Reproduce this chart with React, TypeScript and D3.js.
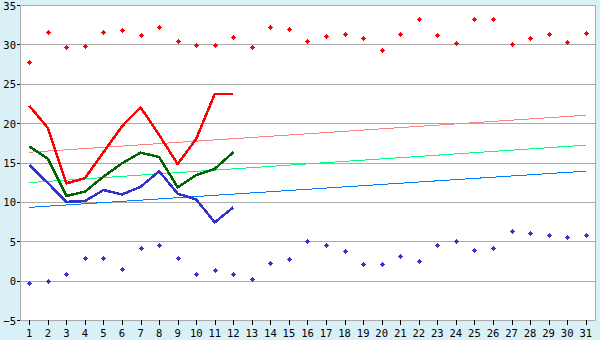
import React from "react";
import * as d3 from "d3";

const days = [1,2,3,4,5,6,7,8,9,10,11,12,13,14,15,16,17,18,19,20,21,22,23,24,25,26,27,28,29,30,31];
const yTicks = [-5,0,5,10,15,20,25,30,35];

const maxRecord = [27.8,31.6,29.7,29.8,31.6,31.8,31.2,32.2,30.4,29.9,29.9,30.9,29.7,32.2,31.9,30.4,31.05,31.3,30.8,29.3,31.3,33.2,31.2,30.2,33.2,33.2,30.0,30.8,31.3,30.3,31.4];
const minRecord = [-0.25,-0.1,0.9,2.9,2.9,1.5,4.1,4.5,2.9,0.9,1.4,0.9,0.15,2.2,2.8,5.0,4.5,3.7,2.05,2.05,3.1,2.55,4.5,5.0,3.95,4.2,6.25,6.0,5.85,5.6,5.85];

const maxLine = [22.2,19.4,12.35,13.0,16.3,19.6,22.0,18.5,14.8,18.0,23.7,23.7];
const meanLine = [17.05,15.5,10.75,11.3,13.2,14.9,16.25,15.7,11.85,13.4,14.2,16.3];
const minLine = [14.7,12.4,10.0,10.1,11.5,10.95,11.9,13.9,11.05,10.3,7.4,9.3];

const trendDays = [1,31];
const trendMax = [16.3,21.0];
const trendMean = [12.45,17.2];
const trendMin = [9.3,13.9];

const W = 600, H = 340;
const L = 20, R = 595, T = 5, B = 320;

export default function App() {
  React.useEffect(() => { document.body.style.margin = "0"; }, []);
  const xb = d3.scaleBand<number>().domain(days).range([L, R]).padding(0);
  const x = (d: number) => (xb(d) as number) + xb.bandwidth() / 2;
  const y = d3.scaleLinear().domain([-5, 35]).range([B, T]);

  const line = d3.line<number>().x((_, i) => x(days[i])).y((v) => y(v));
  const tline = d3.line<number>().x((_, i) => x(trendDays[i])).y((v) => y(v));
  // stepped pixel diamond, 5x5 with a plus-like core
  const marker = (px: number, py: number) => {
    const cx = Math.round(px) + 0.5, cy = Math.round(py) + 0.5;
    const s = 0.5, m = 1.5, b = 2.5;
    return `M${cx - s},${cy - b}H${cx + s}V${cy - m}H${cx + m}V${cy - s}H${cx + b}V${cy + s}H${cx + m}V${cy + m}H${cx + s}V${cy + b}H${cx - s}V${cy + m}H${cx - m}V${cy + s}H${cx - b}V${cy - s}H${cx - m}V${cy - m}H${cx - s}Z`;
  };

  const font = "'DejaVu Sans Mono', monospace";
  return (
    <svg width={W} height={H} style={{ display: "block" }}>
      <rect x={0} y={0} width={W} height={H} fill="#d9f0f6" />
      <rect x={L} y={T} width={R - L} height={B - T} fill="#ffffff" />
      {yTicks.map((t) => (
        <g key={t}>
          <line x1={L} x2={R} y1={Math.round(y(t)) + 0.5} y2={Math.round(y(t)) + 0.5} stroke="#aaaaaa" strokeWidth={1} />
          <line x1={L - 3} x2={L} y1={Math.round(y(t)) + 0.5} y2={Math.round(y(t)) + 0.5} stroke="#000" strokeWidth={1} />
          <text x={16} y={y(t) + 4.5} textAnchor="end" fontFamily={font} fontSize={10.5} fill="#000">
            {t < 0 ? "\u2212" + Math.abs(t) : t}
          </text>
        </g>
      ))}
      <line x1={L + 0.5} x2={L + 0.5} y1={T} y2={B} stroke="#aaaaaa" />
      <line x1={R + 0.5} x2={R + 0.5} y1={T} y2={B + 0.5} stroke="#aaaaaa" />
      {days.map((d) => (
        <g key={d}>
          <line x1={Math.round(x(d)) + 0.5} x2={Math.round(x(d)) + 0.5} y1={B} y2={B + 5} stroke="#000" />
          <text x={x(d)} y={337} textAnchor="middle" fontFamily={font} fontSize={10.5} fill="#000">{d}</text>
        </g>
      ))}
      <path d={tline(trendMax) as string} fill="none" stroke="#ff8080" strokeWidth={1} shapeRendering="crispEdges" />
      <path d={tline(trendMean) as string} fill="none" stroke="#00ff80" strokeWidth={1} shapeRendering="crispEdges" />
      <path d={tline(trendMin) as string} fill="none" stroke="#0080ff" strokeWidth={1} shapeRendering="crispEdges" />
      <path d={line(maxLine) as string} fill="none" stroke="#ff0000" strokeWidth={2.5} strokeLinejoin="round" shapeRendering="crispEdges" />
      <path d={line(meanLine) as string} fill="none" stroke="#006400" strokeWidth={2.5} strokeLinejoin="round" shapeRendering="crispEdges" />
      <path d={line(minLine) as string} fill="none" stroke="#3333cc" strokeWidth={2.5} strokeLinejoin="round" shapeRendering="crispEdges" />
      {maxRecord.map((v, i) => (
        <path key={"mx" + i} d={marker(x(days[i]), y(v))} fill="#ff0000" shapeRendering="crispEdges" />
      ))}
      {minRecord.map((v, i) => (
        <path key={"mn" + i} d={marker(x(days[i]), y(v))} fill="#3333cc" shapeRendering="crispEdges" />
      ))}
    </svg>
  );
}
